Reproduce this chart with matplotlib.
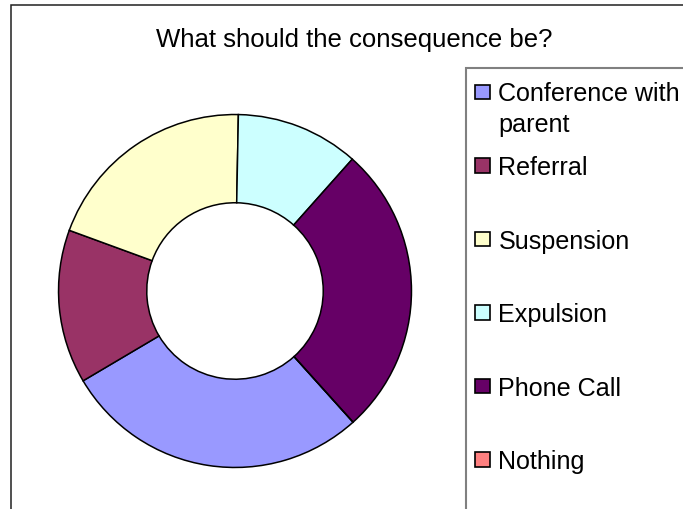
import matplotlib
matplotlib.use("Agg")
import matplotlib.pyplot as plt
from matplotlib.patches import Rectangle

# survey answers
labels = ["Conference with\nparent", "Referral", "Suspension",
          "Expulsion", "Phone Call", "Nothing"]
counts = [20, 10, 14, 8, 19, 0]
colors = ["#9999FF", "#993366", "#FFFFCC", "#CCFFFF", "#660066", "#FF8080"]
title = "What should the consequence be?"

W, H = 683, 510
plt.rcParams['font.family'] = ['Liberation Sans', 'DejaVu Sans']
fig = plt.figure(figsize=(W / 100, H / 100), dpi=100)
fig.patch.set_facecolor("white")


def fx(px):
    return px / W


def fy(py):
    # pixel rows counted from the top
    return 1 - py / H


# chart area frame (runs off the right and bottom)
fig.patches.append(Rectangle((fx(11), fy(540)), fx(720 - 11), 534 / H,
                             transform=fig.transFigure, fill=False,
                             edgecolor="#202020", linewidth=1.1))

fig.text(fx(354), fy(47.5), title, ha="center", va="baseline",
         fontsize=18.5, color="black")

# doughnut, outer ring 354 px across centred at (235, 292)
ax = fig.add_axes([fx(58), fy(469), 354 / W, 354 / H])
ax.pie(counts, colors=colors, startangle=90 - 138, counterclock=False,
       radius=1.0,
       wedgeprops=dict(width=0.5, edgecolor="black", linewidth=1.1))
ax.set_xlim(-1.003, 1.003)
ax.set_ylim(-1.003, 1.003)
ax.set_aspect("equal")
ax.axis("off")

# legend box
fig.patches.append(Rectangle((fx(466), fy(540)), fx(300), (540 - 69) / H,
                             transform=fig.transFigure, fill=False,
                             edgecolor="#808080", linewidth=1.5))

base0, step, line_h = 101.5, 73.5, 30.5
for i, (lab, col) in enumerate(zip(labels, colors)):
    b = base0 + i * step
    fig.patches.append(Rectangle((fx(475.5), fy(b - 1.5)), fx(14.5), 14.5 / H,
                                 transform=fig.transFigure, facecolor=col,
                                 edgecolor="black", linewidth=1.2))
    for j, part in enumerate(lab.split("\n")):
        fig.text(fx(498.5), fy(b + j * line_h), part, ha="left", va="baseline",
                 fontsize=18.1, color="black")

fig.savefig("out.png", dpi=100)
